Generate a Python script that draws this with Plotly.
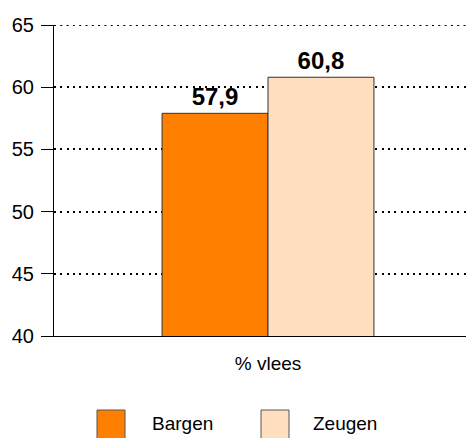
import plotly.graph_objects as go

categories = ["% vlees"]
series_names = ["Bargen", "Zeugen"]
bargen = [57.9]
zeugen = [60.8]
colors = ["#FF8000", "#FFDFC0"]
y_ticks = [40, 45, 50, 55, 60, 65]

# page body adds an 8px margin; compensate
OFF = 8
W, H = 474, 438 - OFF
ml, mr, mt = 54 - OFF, 0, 25 - OFF
mb = H - (336 - OFF)
pw, ph = W - ml - mr, H - mt - mb

def px2paper(x, y):
    # x, y in screen pixels of the reference
    fx, fy = x - OFF, y - OFF
    return (fx - ml) / pw, (H - mb - fy) / ph

fig = go.Figure()
for name, vals, col in zip(series_names, [bargen, zeugen], colors):
    fig.add_trace(go.Bar(
        x=categories, y=vals, name=name,
        marker=dict(color=col, line=dict(color="#333333", width=1)),
        texttemplate="%{y:.1f}", textposition="outside",
        textfont=dict(family="Liberation Sans, Arial", size=24, color="black", weight="bold"),
        cliponaxis=False, showlegend=False,
    ))

fig.update_layout(
    width=W, height=H,
    margin=dict(l=ml, r=mr, t=mt, b=mb),
    paper_bgcolor="white", plot_bgcolor="white",
    barmode="group", bargap=0.505, bargroupgap=0,
    separators=",.",
    font=dict(family="Liberation Sans, Arial", size=19, color="black"),
    xaxis=dict(showline=True, linecolor="black", linewidth=1, ticks="",
               tickfont=dict(size=19), showgrid=False, ticklabelstandoff=10),
    yaxis=dict(range=[40, 65], tickvals=y_ticks, showline=True, linecolor="black",
               linewidth=1, ticks="outside", ticklen=12, tickcolor="black",
               tickfont=dict(size=20), showgrid=True, gridcolor="black",
               gridwidth=2, griddash="2px,4.3px", zeroline=False, ticklabelstandoff=3),
)

# top gridline at the upper range edge
fig.add_shape(type="line", xref="paper", yref="y", x0=0, x1=1, y0=y_ticks[-1], y1=y_ticks[-1],
              line=dict(color="black", width=2, dash="2px,4.3px"), layer="below")

# custom legend
legend_items = [(97, 152), (261, 313)]
for (sx, tx), name, col in zip(legend_items, series_names, colors):
    x0, y0 = px2paper(sx, 440)
    x1, y1 = px2paper(sx + 28, 410)
    fig.add_shape(type="rect", xref="paper", yref="paper", x0=x0, x1=x1, y0=y0, y1=y1,
                  fillcolor=col, line=dict(color="#555555", width=1))
    ax, ay = px2paper(tx - 2, 423)
    fig.add_annotation(xref="paper", yref="paper", x=ax, y=ay, text=name,
                       showarrow=False, xanchor="left", yanchor="middle",
                       font=dict(size=19, color="black"))

fig.write_html("out.html")
